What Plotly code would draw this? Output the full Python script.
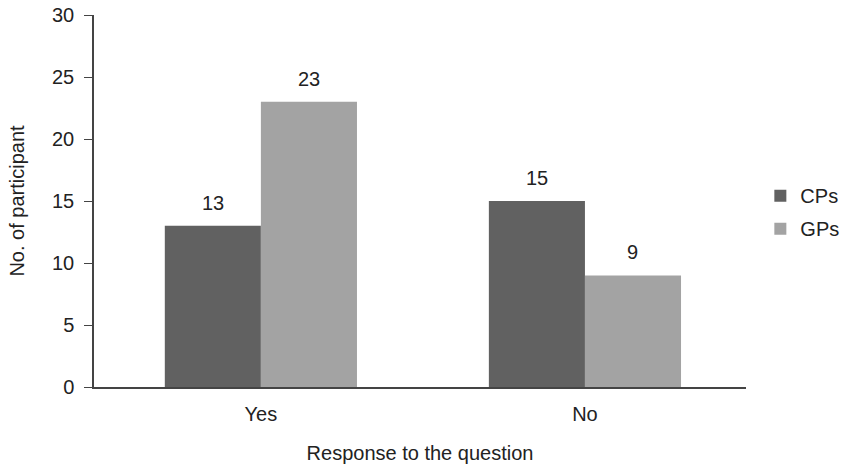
import plotly.graph_objects as go

categories = ["Yes", "No"]
cps = [13, 15]
gps = [23, 9]
series_names = ["CPs", "GPs"]
y_ticks = [0, 5, 10, 15, 20, 25, 30]

colors = ["#616161", "#a3a3a3"]
font = "Liberation Sans, Arial, sans-serif"
fs = 20

fig = go.Figure()
for i, (name, vals) in enumerate(zip(series_names, [cps, gps])):
    fig.add_trace(go.Bar(
        x=categories, y=vals, name=name,
        marker=dict(color=colors[i], line=dict(width=0)),
        legendgroup=name,
        offsetgroup=str(i),
    ))

# value labels
for i, vals in enumerate([cps, gps]):
    for j, (c, v) in enumerate(zip(categories, vals)):
        fig.add_annotation(
            x=j + (-0.148 if i == 0 else 0.148), y=v, text=str(v),
            showarrow=False, yanchor="bottom", yshift=10,
            font=dict(size=fs, color="#222222", family=font),
            xref="x", yref="y",
        )

fig.update_layout(
    width=843, height=464,
    margin=dict(l=94, r=97, t=15, b=77, autoexpand=False),
    plot_bgcolor="white", paper_bgcolor="white",
    barmode="group", bargap=0.407, bargroupgap=0,
    font=dict(family=font, size=fs, color="#222222"),
    showlegend=True,
    legend=dict(x=1.022, y=0.47, xanchor="left", yanchor="middle",
                font=dict(size=fs), tracegroupgap=4, bgcolor="rgba(0,0,0,0)"),
    xaxis=dict(
        type="category", range=[-0.515, 1.497],
        showline=True, linecolor="#444444", linewidth=1.5,
        ticks="", showgrid=False, tickfont=dict(size=fs),
        ticklabelstandoff=8, automargin=False,
        title=dict(text="Response to the question", font=dict(size=fs), standoff=27),
    ),
    yaxis=dict(
        range=[0, 30], tickvals=y_ticks,
        showline=True, linecolor="#444444", linewidth=1.5,
        ticks="outside", ticklen=8, tickcolor="#444444", tickwidth=1,
        ticklabelstandoff=6, automargin=False,
        showgrid=False, zeroline=False, tickfont=dict(size=fs),
        title=dict(text="No. of participant", font=dict(size=fs), standoff=22),
    ),
)

fig.write_html("out.html")
